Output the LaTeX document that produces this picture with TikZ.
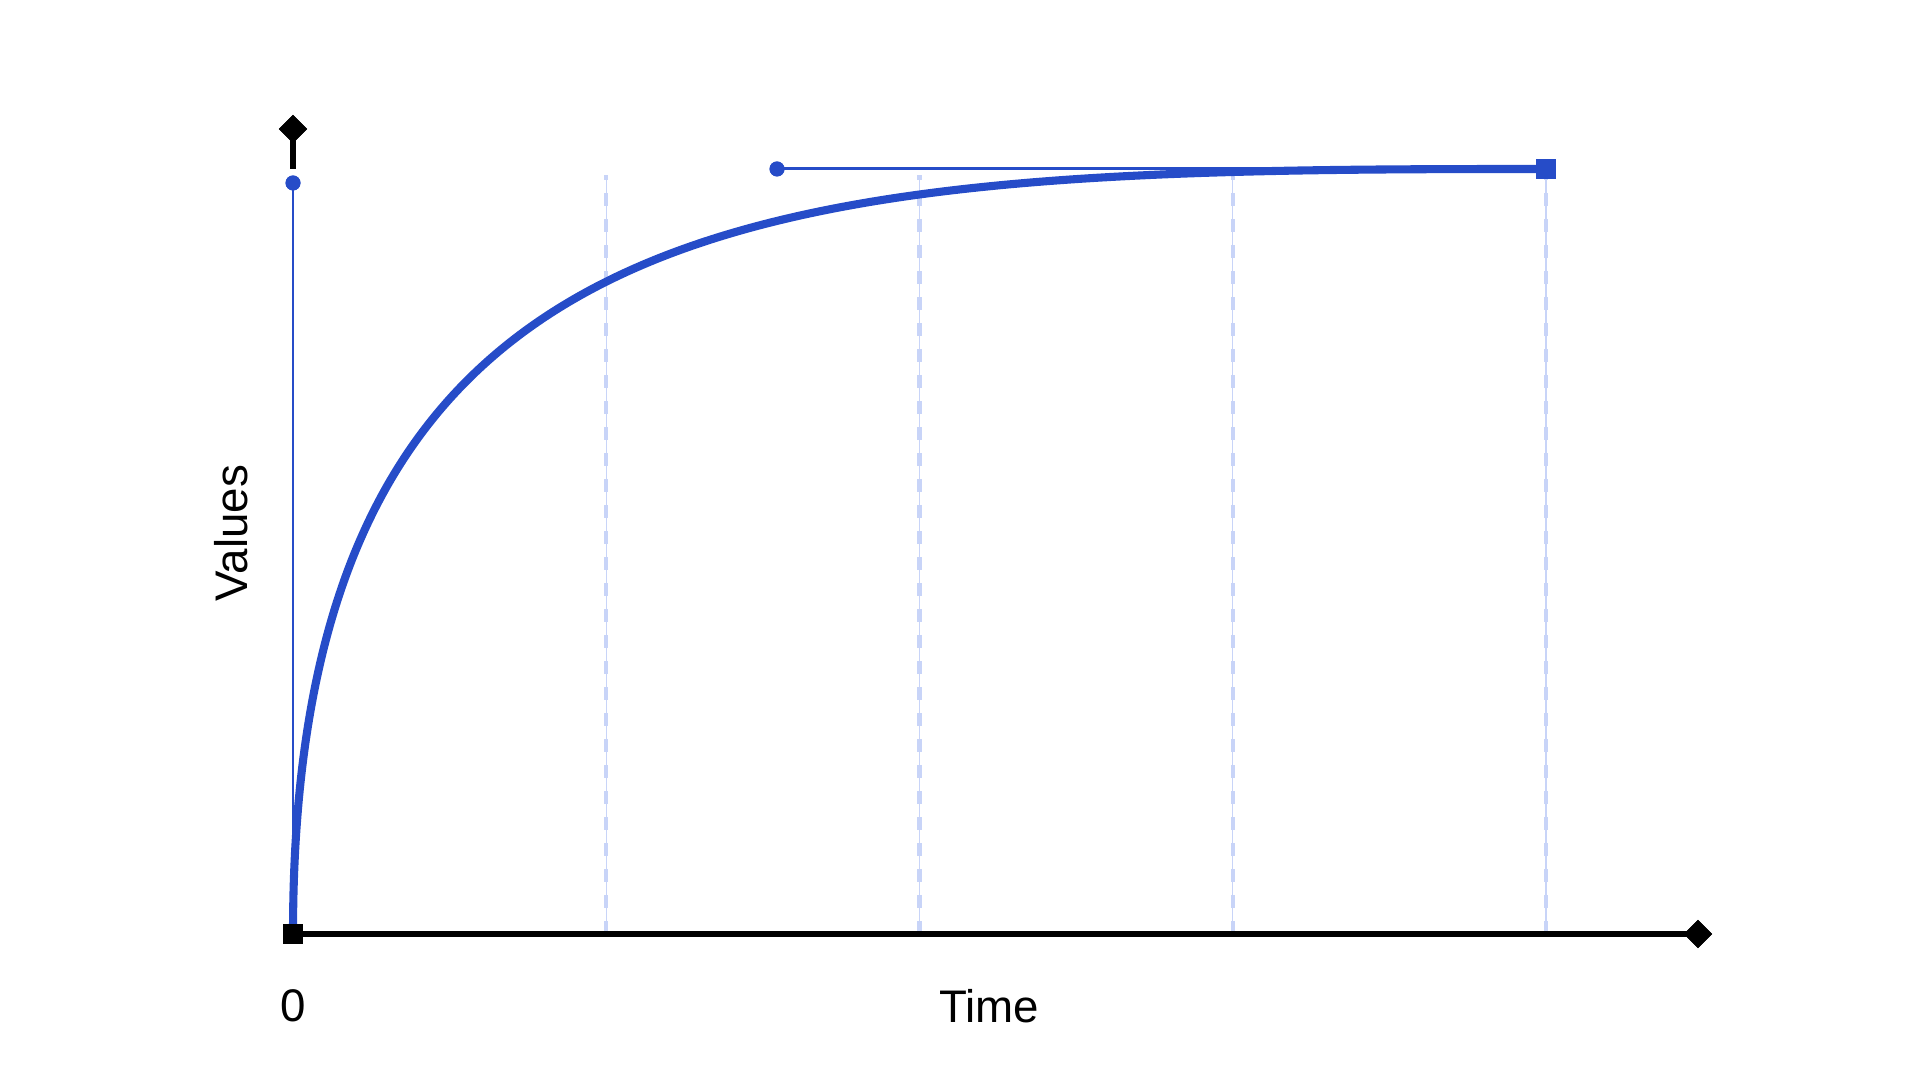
\documentclass[tikz,border=0pt]{standalone}
\usepackage{fontspec}
\setmainfont{Liberation Sans}
\usetikzlibrary{shapes.geometric}
\definecolor{curveblue}{RGB}{38,76,200}
\definecolor{gridblue}{RGB}{200,212,248}

\begin{document}
\begin{tikzpicture}[
    axisline/.style={line width=1.6pt,black},
    handle/.style={line width=0.85pt,curveblue},
    curve/.style={line width=2.3pt,curveblue},
    gridline/.style={gridblue,line width=1.2pt,dash pattern=on 3.7pt off 3.7pt,
      preaction={draw=gridblue,line width=0.4pt,solid}},
    sqmark/.style={rectangle,inner sep=0pt,minimum size=0.2cm},
    dmmark/.style={diamond,inner sep=0pt,minimum size=0.29cm,fill=black},
    dotmark/.style={circle,inner sep=0pt,minimum size=0.15cm,fill=curveblue},
    label/.style={font=\fontsize{13}{15}\selectfont}
  ]
    \useasboundingbox (0,0) rectangle (19.2,10.8);
    \foreach \i in {1,...,4}{
      \coordinate (gbot\i) at ({2.93+3.1325*\i},1.46);
      \coordinate (gtop\i) at ({2.93+3.1325*\i},9.05);
      \draw [gridline] (gbot\i) -- (gtop\i);
    }
    \node (O) [sqmark] at (2.93,1.46) {};
    \node (X) [dmmark] at (16.98,1.46) {};
    \node (Y) [dmmark] at (2.93,9.51) {};
    \coordinate (Ybot) at (2.93,9.11);
    \node (A) [dotmark] at (2.93,8.97) {};
    \node (B) [dotmark] at (7.77,9.11) {};
    \node (C) [sqmark,fill=curveblue] at (15.46,9.11) {};
    \draw [axisline] (O.center) -- (X.center);
    \draw [axisline] (Ybot) -- (Y.center);
    \draw [handle] (O.center) -- (A.center);
    \draw [handle] (B.center) -- (C.center);
    \draw [curve] (O.center) .. controls (A.center) and (B.center) .. (C.center);
    \node [sqmark,fill=black] at (O) {};
    \node [dmmark] at (X) {};
    \node [dmmark] at (Y) {};
    \node [dotmark] at (A) {};
    \node [dotmark] at (B) {};
    \node [sqmark,fill=curveblue] at (C) {};
    \node (zero) [label] at (2.93,0.74) {0};
    \node (time) [label] at (9.89,0.74) {Time};
    \node (values) [label,rotate=90] at (2.31,5.47) {Values};
  \end{tikzpicture}
\end{document}
